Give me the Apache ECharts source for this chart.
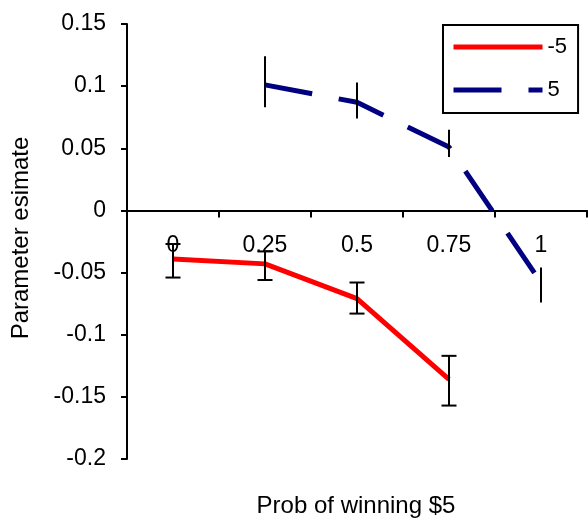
<!DOCTYPE html>
<html><head><meta charset="utf-8">
<script src="https://cdn.jsdelivr.net/npm/echarts@6/dist/echarts.min.js"></script>
<style>html,body{margin:0;padding:0;background:#fff}#c{width:588px;height:521px}</style>
</head><body><div id="c"></div>
<script>
const categories = ['0', '0.25', '0.5', '0.75', '1'];
const seriesNames = ['-5', '5'];
const negValues = [-0.039, -0.043, -0.071, -0.136, null];
const negLow = [-0.054, -0.056, -0.083, -0.157, null];
const negHigh = [-0.027, -0.033, -0.058, -0.117, null];
const posValues = [null, 0.101, 0.087, 0.051, -0.058];
const posLow = [null, 0.083, 0.074, 0.043, -0.074];
const posHigh = [null, 0.124, 0.103, 0.065, -0.046];
const yMin = -0.2, yMax = 0.15, yInterval = 0.05;
const xTitle = 'Prob of winning $5';
const yTitle = 'Parameter esimate';

const FONT = "'Liberation Sans', Arial, sans-serif";
const GRID = { left: 127, top: 24, width: 460, height: 435 };
// place the category axis on the value 0 line
const zeroOffset = -GRID.height * (0 - yMin) / (yMax - yMin);

function errorSeries(name, low, high, cap) {
  const data = [];
  low.forEach((l, i) => { if (l != null) data.push([i, l, high[i]]); });
  return {
    name: name + ' err', type: 'custom', data: data, z: 5, silent: true,
    encode: { x: 0, y: [1, 2] },
    renderItem: function (params, api) {
      const x = api.value(0);
      const lo = api.coord([x, api.value(1)]);
      const hi = api.coord([x, api.value(2)]);
      const st = { stroke: '#000', lineWidth: 2 };
      const ch = [{ type: 'line', shape: { x1: lo[0], y1: lo[1], x2: hi[0], y2: hi[1] }, style: st }];
      if (cap) {
        ch.push({ type: 'line', shape: { x1: lo[0] - 7.5, y1: lo[1], x2: lo[0] + 7.5, y2: lo[1] }, style: st });
        ch.push({ type: 'line', shape: { x1: hi[0] - 7.5, y1: hi[1], x2: hi[0] + 7.5, y2: hi[1] }, style: st });
      }
      return { type: 'group', children: ch };
    }
  };
}

const chart = echarts.init(document.getElementById('c'), null, { renderer: 'canvas' });
chart.setOption({
  animation: false,
  backgroundColor: '#fff',
  textStyle: { fontFamily: FONT, color: '#000' },
  grid: Object.assign({ containLabel: false }, GRID),
  legend: {
    data: seriesNames, orient: 'vertical', left: 443, top: 25,
    itemWidth: 89, itemHeight: 14, itemGap: 21,
    padding: [11, 11, 12, 8], borderColor: '#000', borderWidth: 2,
    selectedMode: false,
    textStyle: { fontSize: 22, color: '#000', fontFamily: FONT },
    lineStyle: { width: 5 },
    itemStyle: { opacity: 0, borderWidth: 0 }
  },
  xAxis: {
    type: 'category', data: categories, boundaryGap: true,
    position: 'bottom', offset: zeroOffset,
    axisLine: { onZero: false, lineStyle: { color: '#000', width: 2 } },
    axisTick: { show: true, length: 7, lineStyle: { color: '#000', width: 2 } },
    axisLabel: { fontSize: 23, color: '#000', margin: 24, fontFamily: FONT },
    splitLine: { show: false }
  },
  yAxis: {
    type: 'value', min: yMin, max: yMax, interval: yInterval,
    axisLine: { show: true, lineStyle: { color: '#000', width: 2 } },
    axisTick: { show: true, length: 6, lineStyle: { color: '#000', width: 2 } },
    axisLabel: { fontSize: 23, color: '#000', margin: 21, fontFamily: FONT,
      formatter: v => String(Math.round(v * 100) / 100) },
    splitLine: { show: false }
  },
  graphic: [
    { type: 'text', x: 356, y: 506, style: { text: xTitle, font: '24px ' + FONT, fill: '#000', textAlign: 'center', textVerticalAlign: 'middle' } },
    { type: 'text', x: 21.5, y: 238, rotation: Math.PI / 2, style: { text: yTitle, font: '24px ' + FONT, fill: '#000', textAlign: 'center', textVerticalAlign: 'middle' } }
  ],
  series: [
    { name: seriesNames[0], type: 'line', data: negValues, symbol: 'none', z: 3,
      lineStyle: { color: '#ff0000', width: 5 }, itemStyle: { color: '#ff0000' } },
    { name: seriesNames[1], type: 'line', data: posValues, symbol: 'none', z: 3,
      lineStyle: { color: '#000080', width: 5, type: [48, 27], cap: 'butt' }, itemStyle: { color: '#000080' } },
    errorSeries(seriesNames[0], negLow, negHigh, true),
    errorSeries(seriesNames[1], posLow, posHigh, false)
  ]
});
</script></body></html>
